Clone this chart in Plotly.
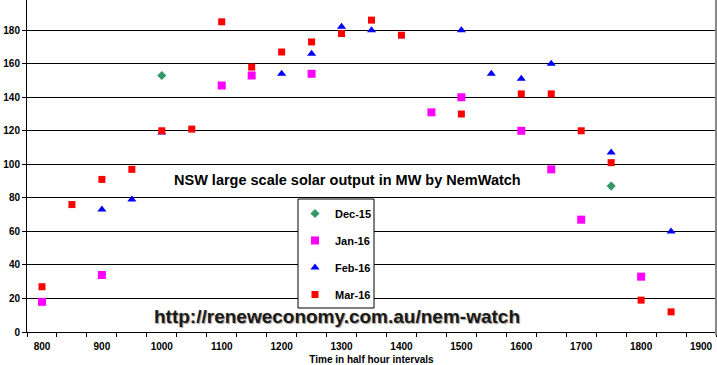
import plotly.graph_objects as go

# ---- data ----
dec_x = [1000, 1750]
dec_y = [153, 87]

jan_x = [800, 900, 1100, 1150, 1250, 1450, 1500, 1600, 1650, 1700, 1800]
jan_y = [18, 34, 147, 153, 154, 131, 140, 120, 97, 67, 33]

feb_x = [900, 950, 1000, 1200, 1250, 1300, 1350, 1500, 1550, 1600, 1650, 1750, 1850]
feb_y = [73, 79, 119, 154, 166, 182, 180, 180, 154, 151, 160, 107, 60]

mar_x = [800, 850, 900, 950, 1000, 1050, 1100, 1150, 1200, 1250, 1300, 1350, 1400,
         1500, 1600, 1650, 1700, 1750, 1800, 1850]
mar_y = [27, 76, 91, 97, 120, 121, 185, 158, 167, 173, 178, 186, 177,
         130, 142, 142, 120, 101, 19, 12]

x_ticks = [800, 900, 1000, 1100, 1200, 1300, 1400, 1500, 1600, 1700, 1800, 1900]

title_text = "NSW large scale solar output in MW by NemWatch"
url_text = "http://reneweconomy.com.au/nem-watch"
x_title = "Time in half hour intervals"

FONT = "Arial, 'Liberation Sans', sans-serif"

fig = go.Figure()
fig.add_trace(go.Scatter(x=dec_x, y=dec_y, mode="markers", name="Dec-15",
                         marker=dict(symbol="diamond", size=7, color="#339966"),
                         legendgroup="a"))
fig.add_trace(go.Scatter(x=jan_x, y=jan_y, mode="markers", name="Jan-16",
                         marker=dict(symbol="square", size=8, color="#FF00FF"),
                         legendgroup="b"))
fig.add_trace(go.Scatter(x=feb_x, y=feb_y, mode="markers", name="Feb-16",
                         marker=dict(symbol="triangle-up", size=8, color="#0000FF"),
                         legendgroup="c"))
fig.add_trace(go.Scatter(x=mar_x, y=mar_y, mode="markers", name="Mar-16",
                         marker=dict(symbol="square", size=7, color="#FF0000"),
                         legendgroup="d"))

W, H = 717, 365
ml, mr, mt, mb = 27, 1, 0, 33
pw, ph = W - ml - mr, H - mt - mb


def px(xp):
    return (xp - ml) / pw


def py(yp):
    return (mt + ph - yp) / ph


fig.update_layout(
    width=W, height=H,
    margin=dict(l=ml, r=mr, t=mt, b=mb, pad=0, autoexpand=False),
    paper_bgcolor="white", plot_bgcolor="white",
    font=dict(family=FONT, color="black"),
    showlegend=True,
    legend=dict(
        x=px(295), y=py(199), xanchor="left", yanchor="top",
        bgcolor="rgba(0,0,0,0)", borderwidth=0,
        font=dict(family=FONT, size=11, color="black", weight="bold"),
        traceorder="grouped", tracegroupgap=8,
    ),
    xaxis=dict(
        range=[775, 1925], tickvals=x_ticks, ticktext=[str(v) for v in x_ticks],
        ticks="", ticklabelstandoff=5, automargin=False,
        tickfont=dict(family=FONT, size=10, color="black", weight="bold"),
        showgrid=False, zeroline=False,
        showline=True, linecolor="black", linewidth=1,
        minor=dict(ticks="outside", ticklen=4, tick0=775, dtick=50,
                   tickcolor="black", tickwidth=1, showgrid=False),
        title=dict(text=x_title, standoff=5,
                   font=dict(family=FONT, size=10, color="black", weight="bold")),
        fixedrange=True,
    ),
    yaxis=dict(
        range=[0, 198], dtick=20, tick0=0, automargin=False,
        ticks="outside", ticklen=4, tickcolor="black",
        tickfont=dict(family=FONT, size=10, color="black", weight="bold"),
        showgrid=True, gridcolor="black", gridwidth=1,
        zeroline=False, showline=True, linecolor="black", linewidth=1,
        fixedrange=True,
    ),
    shapes=[
        dict(type="rect", xref="paper", yref="paper",
             x0=px(298), x1=px(374), y0=py(308), y1=py(199),
             fillcolor="white", line=dict(color="black", width=1), layer="above"),
        dict(type="line", xref="paper", yref="paper",
             x0=1, x1=1, y0=-0.01, y1=1,
             line=dict(color="#888888", width=2), layer="above"),
    ],
    annotations=[
        dict(text=title_text, xref="paper", yref="paper",
             x=px(347), y=py(179.5), xanchor="center", yanchor="middle",
             showarrow=False,
             font=dict(family=FONT, size=14.5, color="black", weight="bold")),
        dict(text=url_text, xref="paper", yref="paper",
             x=px(336.5), y=py(316), xanchor="center", yanchor="middle",
             showarrow=False,
             font=dict(family=FONT, size=19, color="#1a1a1a", weight="bold",
                       shadow="1px 1px 1px #9a9a9a")),
    ],
)

fig.write_html("out.html",
               config={"displayModeBar": False, "staticPlot": True},
               post_script="document.body.style.margin='0';document.body.style.overflow='hidden';")
